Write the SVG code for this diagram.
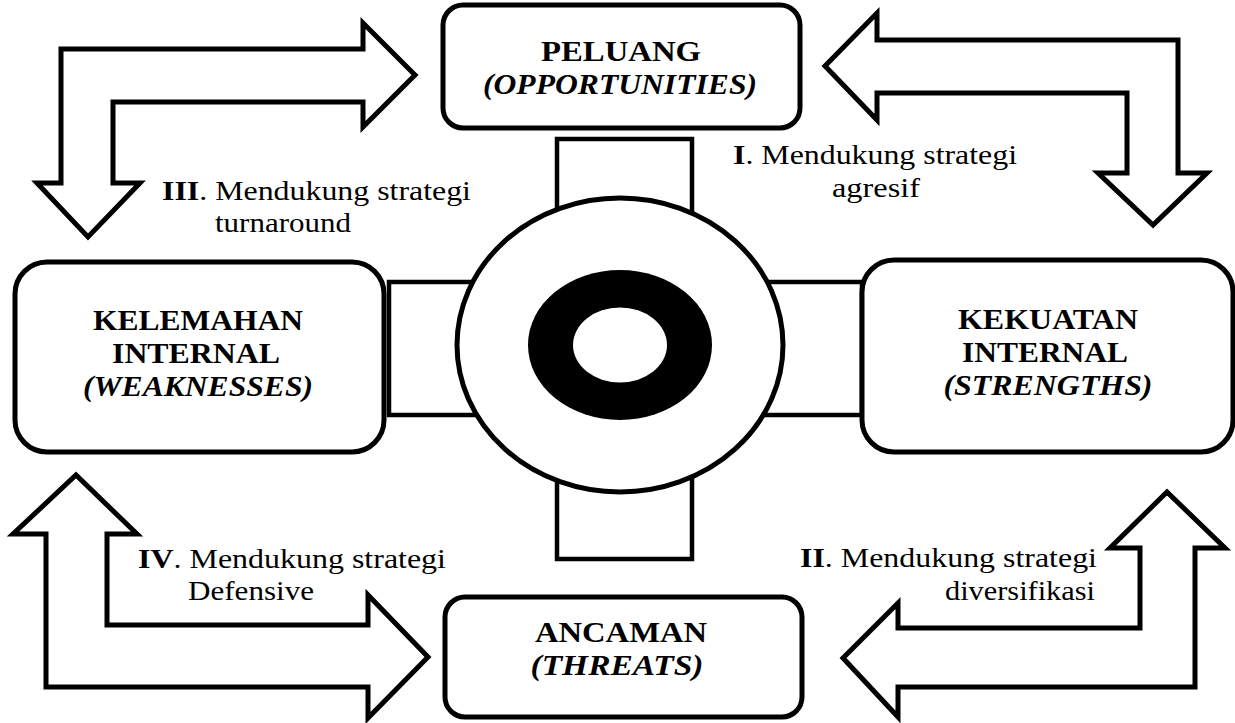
<svg xmlns="http://www.w3.org/2000/svg" width="1235" height="723" viewBox="0 0 1235 723">
  <style>
    .arrow { fill: #fff; stroke: #000; stroke-width: 5; stroke-linejoin: miter; }
    .box { fill: #fff; stroke: #000; stroke-width: 5; }
    .bar { fill: #fff; stroke: #000; stroke-width: 4.5; }
    .title { font-family: "Liberation Serif", "Times New Roman", serif; font-weight: bold; font-size: 29.5px; text-anchor: middle; fill: #000; }
    .title.it { font-style: italic; }
    .note { font-family: "Liberation Serif", "Times New Roman", serif; font-size: 28px; fill: #000; }
    .note .b { font-weight: bold; }
  </style>
  <rect width="1235" height="723" fill="#fff"/>

  <!-- bent double-headed arrows between the quadrants -->
  <g id="connectors">
    <path class="arrow" d="M61,183 L61,49 L363,49 L363,23 L415,75 L363,127 L363,102 L113,102 L113,183 L140,183 L88,237 L37,183 Z"/>
    <path class="arrow" d="M1178,173 L1178,40 L877,40 L877,13 L825,66 L877,120 L877,93 L1127,93 L1127,173 L1098,173 L1153,225 L1207,173 Z"/>
    <path class="arrow" d="M46,687 L46,534 L13,534 L76,475 L137,534 L107,534 L107,625 L368,625 L368,595 L428,657 L368,718 L368,687 Z"/>
    <path class="arrow" d="M1195,687 L1195,548 L1225,548 L1167,492 L1110,548 L1140,548 L1140,628 L898,628 L898,603 L843,658 L898,717 L898,687 Z"/>
  </g>

  <!-- central target with cross bars -->
  <g id="center">
    <rect class="bar" x="557" y="139" width="135" height="420"/>
    <rect class="bar" x="389" y="282" width="473" height="133"/>
    <ellipse cx="620" cy="345" rx="163" ry="147" fill="#fff" stroke="#000" stroke-width="5"/>
    <ellipse cx="620" cy="345" rx="92" ry="75" fill="#000"/>
    <ellipse cx="620" cy="345" rx="47" ry="37.5" fill="#fff"/>
  </g>

  <g id="peluang">
    <rect class="box" x="443" y="5" width="357" height="123" rx="20"/>
    <text class="title" x="621" y="61" textLength="160" lengthAdjust="spacingAndGlyphs">PELUANG</text>
    <text class="title it" x="620" y="94" textLength="274" lengthAdjust="spacingAndGlyphs">(OPPORTUNITIES)</text>
  </g>

  <g id="kelemahan">
    <rect class="box" x="15" y="262" width="369" height="190" rx="32"/>
    <text class="title" x="198" y="330" textLength="210" lengthAdjust="spacingAndGlyphs">KELEMAHAN</text>
    <text class="title" x="196" y="363" textLength="168" lengthAdjust="spacingAndGlyphs">INTERNAL</text>
    <text class="title it" x="198" y="396" textLength="230" lengthAdjust="spacingAndGlyphs">(WEAKNESSES)</text>
  </g>

  <g id="kekuatan">
    <rect class="box" x="862" y="260" width="371" height="192" rx="32"/>
    <text class="title" x="1048" y="329" textLength="180" lengthAdjust="spacingAndGlyphs">KEKUATAN</text>
    <text class="title" x="1045" y="362" textLength="166" lengthAdjust="spacingAndGlyphs">INTERNAL</text>
    <text class="title it" x="1048" y="395" textLength="209" lengthAdjust="spacingAndGlyphs">(STRENGTHS)</text>
  </g>

  <g id="ancaman">
    <rect class="box" x="445" y="597" width="357" height="120" rx="20"/>
    <text class="title" x="621" y="642" textLength="172" lengthAdjust="spacingAndGlyphs">ANCAMAN</text>
    <text class="title it" x="617" y="675" textLength="173" lengthAdjust="spacingAndGlyphs">(THREATS)</text>
  </g>

  <g id="labels">
    <text class="note" x="733" y="164" textLength="284" lengthAdjust="spacingAndGlyphs"><tspan class="b">I</tspan>. Mendukung strategi</text>
    <text class="note" x="876" y="197" text-anchor="middle" textLength="88" lengthAdjust="spacingAndGlyphs">agresif</text>
    <text class="note" x="162" y="200" textLength="309" lengthAdjust="spacingAndGlyphs"><tspan class="b">III</tspan>. Mendukung strategi</text>
    <text class="note" x="283" y="232" text-anchor="middle" textLength="136" lengthAdjust="spacingAndGlyphs">turnaround</text>
    <text class="note" x="138" y="568" textLength="308" lengthAdjust="spacingAndGlyphs"><tspan class="b">IV</tspan>. Mendukung strategi</text>
    <text class="note" x="251" y="600" text-anchor="middle" textLength="126" lengthAdjust="spacingAndGlyphs">Defensive</text>
    <text class="note" x="1097" y="567" text-anchor="end" textLength="297" lengthAdjust="spacingAndGlyphs"><tspan class="b">II</tspan>. Mendukung strategi</text>
    <text class="note" x="1095" y="600" text-anchor="end" textLength="150" lengthAdjust="spacingAndGlyphs">diversifikasi</text>
  </g>
</svg>
